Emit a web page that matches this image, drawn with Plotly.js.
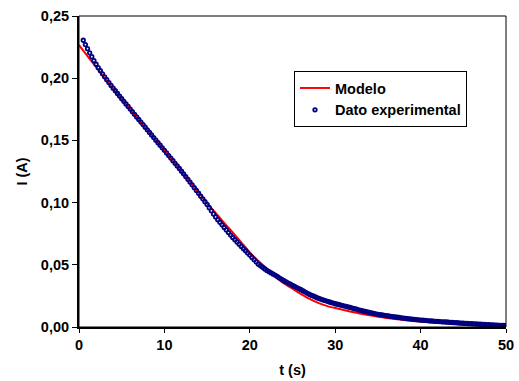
<!DOCTYPE html>
<html>
<head>
<meta charset="utf-8">
<script src="https://cdn.plot.ly/plotly-3.0.1.min.js"></script>
<style>
  html, body { margin: 0; padding: 0; background: #ffffff; }
  #chart { width: 519px; height: 381px; }
</style>
</head>
<body>
<div id="chart"></div>
<script>
// Model curve (red line), t in s, I in A
const modelT = [0,1,2,3,4,5,6,7,8,9,10,11,12,13,14,15,16,17,18,19,20,21,22,23,24,25,26,27,28,29,30,31,32,33,34,35,36,37,38,39,40,41,42,43,44,45,46,47,48,49,50];
const modelI = [0.2267,0.2178,0.2090,0.2002,0.1917,0.1833,0.1750,0.1667,0.1584,0.1501,0.1418,0.1335,0.1252,0.1168,0.1083,0.0994,0.0917,0.0836,0.0760,0.0680,0.0600,0.0530,0.0468,0.0405,0.0350,0.0308,0.0265,0.0226,0.0194,0.0170,0.0152,0.0136,0.0121,0.0107,0.0094,0.0083,0.0073,0.0064,0.0056,0.0049,0.0044,0.0039,0.0035,0.0031,0.0028,0.0025,0.0022,0.0020,0.0018,0.0016,0.0014];

// Experimental data (navy open circles), sampled every 0.25 s starting at 0.5 s
const dataStartT = 0.5;
const dataStepT = 0.25;
const dataI = [
0.2305,0.2270,0.2237,0.2204,0.2173,0.2142,0.2112,0.2085,0.2060,0.2035,
0.2011,0.1988,0.1965,0.1942,0.1920,0.1899,0.1877,0.1856,0.1835,0.1814,
0.1793,0.1773,0.1752,0.1731,0.1710,0.1689,0.1668,0.1647,0.1627,0.1606,
0.1585,0.1564,0.1544,0.1523,0.1502,0.1481,0.1461,0.1440,0.1420,0.1399,
0.1378,0.1358,0.1337,0.1316,0.1295,0.1274,0.1253,0.1231,0.1209,0.1187,
0.1165,0.1143,0.1120,0.1098,0.1075,0.1052,0.1030,0.1007,0.0985,0.0959,
0.0934,0.0909,0.0885,0.0863,0.0842,0.0821,0.0800,0.0780,0.0759,0.0739,
0.0720,0.0702,0.0684,0.0666,0.0648,0.0630,0.0613,0.0595,0.0578,0.0559,
0.0541,0.0523,0.0505,0.0492,0.0480,0.0467,0.0455,0.0445,0.0435,0.0425,
0.0415,0.0404,0.0393,0.0383,0.0372,0.0363,0.0353,0.0344,0.0335,0.0326,
0.0317,0.0309,0.0300,0.0290,0.0281,0.0271,0.0262,0.0254,0.0247,0.0239,
0.0232,0.0226,0.0220,0.0214,0.0208,0.0203,0.0197,0.0192,0.0187,0.0183,
0.0179,0.0174,0.0170,0.0166,0.0161,0.0157,0.0152,0.0147,0.0143,0.0138,
0.0133,0.0129,0.0125,0.0121,0.0117,0.0113,0.0110,0.0106,0.0102,0.0099,
0.0097,0.0094,0.0091,0.0089,0.0086,0.0084,0.0081,0.0079,0.0077,0.0074,
0.0072,0.0070,0.0068,0.0066,0.0064,0.0062,0.0060,0.0058,0.0056,0.0055,
0.0053,0.0052,0.0050,0.0049,0.0048,0.0046,0.0045,0.0044,0.0042,0.0041,
0.0040,0.0039,0.0037,0.0036,0.0035,0.0034,0.0032,0.0031,0.0030,0.0029,
0.0028,0.0027,0.0026,0.0025,0.0024,0.0023,0.0022,0.0021,0.0020,0.0019,
0.0018,0.0017,0.0016,0.0015,0.0014,0.0013,0.0012,0.0012,0.0011
];
const dataT = dataI.map((_, i) => dataStartT + dataStepT * i);

const seriesNames = ["Modelo", "Dato experimental"];
const xTitle = "t (s)";
const yTitle = "I (A)";

const FONT = "'Liberation Sans', Arial, sans-serif";

const traces = [
  {
    x: modelT, y: modelI, name: seriesNames[0], type: "scatter", mode: "lines",
    line: { color: "#ff0000", width: 2, shape: "spline", smoothing: 0.6 }
  },
  {
    x: dataT, y: dataI, name: seriesNames[1], type: "scatter", mode: "markers",
    marker: { symbol: "circle-open", size: 3.5, color: "#000080", line: { width: 1.8, color: "#000080" } }
  }
];

const layout = {
  width: 519, height: 381,
  margin: { l: 79, r: 13, t: 16, b: 54 },
  paper_bgcolor: "#ffffff", plot_bgcolor: "#ffffff",
  separators: ",.",
  font: { family: FONT, size: 14.5, color: "#000000" },
  showlegend: true,
  legend: {
    x: 0.5035, y: 0.823, xanchor: "left", yanchor: "top",
    bordercolor: "#000000", borderwidth: 1, bgcolor: "#ffffff",
    font: { family: FONT, size: 14.5, color: "#000000", weight: "bold" },
    traceorder: "normal", tracegroupgap: 0
  },
  xaxis: {
    range: [0, 50], tick0: 0, dtick: 10, tickmode: "linear",
    showgrid: false, zeroline: false,
    showline: true, linecolor: "#000000", linewidth: 2, mirror: false,
    ticks: "outside", ticklen: 4, tickwidth: 1, tickcolor: "#000000",
    tickfont: { family: FONT, size: 14.5, weight: "bold" },
    title: { text: xTitle, font: { family: FONT, size: 14.5, weight: "bold" }, standoff: 12 },
    automargin: false, fixedrange: true
  },
  yaxis: {
    range: [0, 0.25], tick0: 0, dtick: 0.05, tickmode: "linear", tickformat: ".2f",
    showgrid: false, zeroline: false,
    showline: true, linecolor: "#000000", linewidth: 2, mirror: false,
    ticks: "outside", ticklen: 5, tickwidth: 1, tickcolor: "#000000",
    tickfont: { family: FONT, size: 14.5, weight: "bold" },
    title: { text: yTitle, font: { family: FONT, size: 14.5, weight: "bold" }, standoff: 10 },
    automargin: false, fixedrange: true
  },
  shapes: [
    { type: "rect", xref: "paper", yref: "paper", x0: 0, x1: 1, y0: 0, y1: 1,
      line: { color: "#000000", width: 1 }, fillcolor: "rgba(0,0,0,0)", layer: "above" }
  ]
};

Plotly.newPlot("chart", traces, layout, { displayModeBar: false, staticPlot: true });
</script>
</body>
</html>
